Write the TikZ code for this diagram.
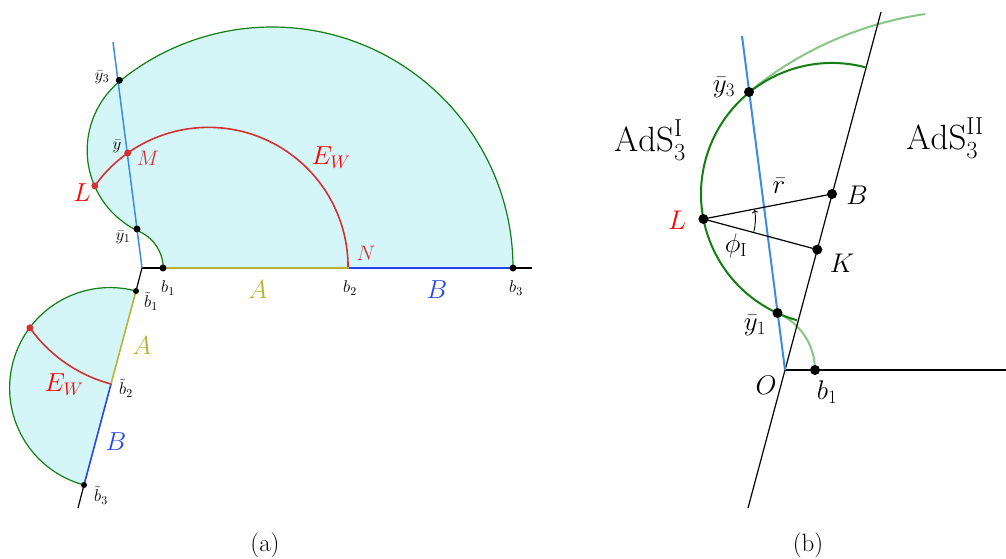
\RequirePackage{fix-cm}
\documentclass[tikz,border=0pt]{standalone}
\usepackage{amsmath}
\usetikzlibrary{arrows.meta}
\definecolor{fillc}{RGB}{213,246,248}
\definecolor{dgreen}{RGB}{20,125,20}
\definecolor{lgreen}{RGB}{135,198,135}
\definecolor{lblue}{RGB}{60,140,225}
\definecolor{bblue}{RGB}{40,70,230}
\definecolor{olivec}{RGB}{185,178,50}
\definecolor{redc}{RGB}{212,50,50}
\begin{document}
\begin{tikzpicture}[x=1pt,y=-1pt,
  sml/.style={font=\fontsize{17}{20}\selectfont, inner sep=0pt},
  mid/.style={font=\fontsize{21}{24}\selectfont, inner sep=0pt},
  big/.style={font=\fontsize{26}{30}\selectfont, inner sep=0pt},
  blab/.style={font=\fontsize{27}{31}\selectfont, inner sep=0pt},
  captxt/.style={font=\fontsize{25}{29}\selectfont, inner sep=0pt},
  huge/.style={font=\fontsize{35}{40}\selectfont, inner sep=0pt},
  dot/.style={circle, fill=black, inner sep=0pt, minimum size=7pt},
  bdot/.style={circle, fill=black, inner sep=0pt, minimum size=10pt},
  rdot/.style={circle, fill=redc, inner sep=0pt, minimum size=7pt},
  gline/.style={dgreen, line width=1.2pt},
  axis/.style={black, line width=1.2pt}]
\useasboundingbox (0,0) rectangle (1006,558);

% ================= (a) upper =================
\coordinate (O) at (142,268);
\coordinate (b1) at (163,268);
\coordinate (b2) at (348.5,268);
\coordinate (b3) at (513,268);
\coordinate (bend) at (532,268);
\coordinate (bt) at (113,42);

\fill[fillc] (b3) arc[start angle=0,end angle=-129.3,radius=241]
  arc[start angle=230.2,end angle=116.1,radius=89.5]
  arc[start angle=-68.7,end angle=0,radius=40.8] -- cycle;
\draw[gline] (b3) arc[start angle=0,end angle=-129.3,radius=241]
  arc[start angle=230.2,end angle=116.1,radius=89.5]
  arc[start angle=-68.7,end angle=0,radius=40.8];

\draw[axis] (O) -- (b1);
\draw[olivec, line width=1.6pt] (b1) -- (b2);
\draw[bblue, line width=1.6pt] (b2) -- (b3);
\draw[axis] (b3) -- (bend);
\draw[lblue, line width=1.5pt] (bt) -- (O);

\coordinate (L) at (94.8,185.9);
\draw[redc, line width=1.6pt] (L) arc[start angle=-144.5,end angle=0,radius=139.6];

\node[dot] (y3) at (119.3,80.3) {};
\node[dot] (y1) at (137,229) {};
\node[dot] (nb1) at (b1) {};
\node[dot] (nb3) at (b3) {};
\node[rdot] (nL) at (L) {};
\node[rdot] (nM) at (127.7,153) {};

\node[sml] (ly3) at (102,77) {$\bar y_3$};
\node[sml] (ly) at (117,146) {$\bar y$};
\node[mid, text=redc] (lM) at (148,158) {$M$};
\node[big, text=red] (lL) at (82,193) {$L$};
\node[sml] (ly1) at (123,237) {$\bar y_1$};
\node[sml] (lb1) at (168,288) {$b_1$};
\node[big, text=red] (lEW) at (331,158) {$E_W$};
\node[mid, text=redc] (lN) at (366,253) {$N$};
\node[big, text=olivec] (lA) at (258,290) {$A$};
\node[sml] (lb2) at (350,288) {$b_2$};
\node[big, text=bblue] (lB) at (437,290) {$B$};
\node[sml] (lb3) at (516,288) {$b_3$};

% ================= (a) lower =================
\coordinate (tb1) at (136,291);
\coordinate (tb2) at (111,384);
\coordinate (tb3) at (84,485);
\coordinate (lend) at (78,508);

\fill[fillc] (tb1) arc[start angle=-75,end angle=-255,radius=100.4] -- cycle;
\draw[gline] (tb1) arc[start angle=-75,end angle=-255,radius=100.4];
\draw[axis] (O) -- (tb1);
\draw[olivec, line width=1.6pt] (tb1) -- (tb2);
\draw[bblue, line width=1.6pt] (tb2) -- (tb3);
\draw[axis] (tb3) -- (lend);
\draw[redc, line width=1.6pt] (tb2) arc[start angle=104.9,end angle=144.5,radius=145.6] coordinate (rd);
\node[rdot] (nrd) at (rd) {};
\node[dot, minimum size=6pt] (ntb1) at (tb1) {};
\node[dot, minimum size=6pt] (ntb3) at (tb3) {};

\node[sml] (ltb1) at (151,301) {$\tilde b_1$};
\node[big, text=olivec] (lA2) at (142,346) {$A$};
\node[sml] (ltb2) at (126,388) {$\tilde b_2$};
\node[big, text=red] (lEW2) at (64,385) {$E_W$};
\node[big, text=bblue] (lB2) at (116,442) {$B$};
\node[sml] (ltb3) at (101,495) {$\tilde b_3$};

\node[captxt] (capa) at (265,545) {(a)};

% ================= (b) =================
\coordinate (O2) at (785,370);
\coordinate (lb) at (748,508);
\coordinate (lt) at (881,12);
\coordinate (hend) at (1006,370);
\coordinate (bt2) at (742,36);
\coordinate (B) at (832,194);
\coordinate (K) at (817.3,249.6);
\coordinate (L2) at (703.4,219);
\coordinate (Y3) at (749,92);
\coordinate (Y1) at (777.5,313);
\coordinate (bb1) at (815,370);

\draw[lgreen, line width=2pt] (Y3) arc[start angle=-129.4,end angle=-98.4,radius=360];
\draw[lgreen, line width=2pt] (Y1) arc[start angle=-66.7,end angle=0,radius=62];
\draw[dgreen, line width=2pt] (797,320.2) arc[start angle=105.5,end angle=284.7,radius=131];

\draw[axis] (lb) -- (lt);
\draw[axis] (O2) -- (hend);
\draw[lblue, line width=2pt] (bt2) -- (O2);
\draw[axis] (L2) -- (B);
\draw[axis] (L2) -- (K);
\draw[black, line width=0.9pt, -{To[length=3pt]}] (L2) ++(14:52) arc[start angle=14,end angle=-10,radius=52];

\node[bdot] (nY3) at (Y3) {};
\node[bdot] (nY1) at (Y1) {};
\node[bdot] (nL2) at (L2) {};
\node[bdot] (nB) at (B) {};
\node[bdot] (nK) at (K) {};
\node[bdot] (nbb1) at (bb1) {};

\node[blab] (lY3) at (724,88) {$\bar y_3$};
\node[blab, text=red] (lL2) at (677,220) {$L$};
\node[blab] (lr) at (779,186) {$\bar r$};
\node[blab] (lBB) at (857,195) {$B$};
\node[blab] (lK) at (842,263) {$K$};
\node[blab] (lphi) at (736,246) {$\phi_{\mathrm{I}}$};
\node[blab] (lY1) at (755,326) {$\bar y_1$};
\node[blab] (lO) at (766,385) {$O$};
\node[blab] (lbb1) at (827,392) {$b_1$};
\node[huge] (ads1) at (650,140) {$\mathrm{AdS}_3^{\mathrm{I}}$};
\node[huge] (ads2) at (945,138) {$\mathrm{AdS}_3^{\mathrm{II}}$};

\node[captxt] (capb) at (808,545) {(b)};
\end{tikzpicture}
\end{document}
